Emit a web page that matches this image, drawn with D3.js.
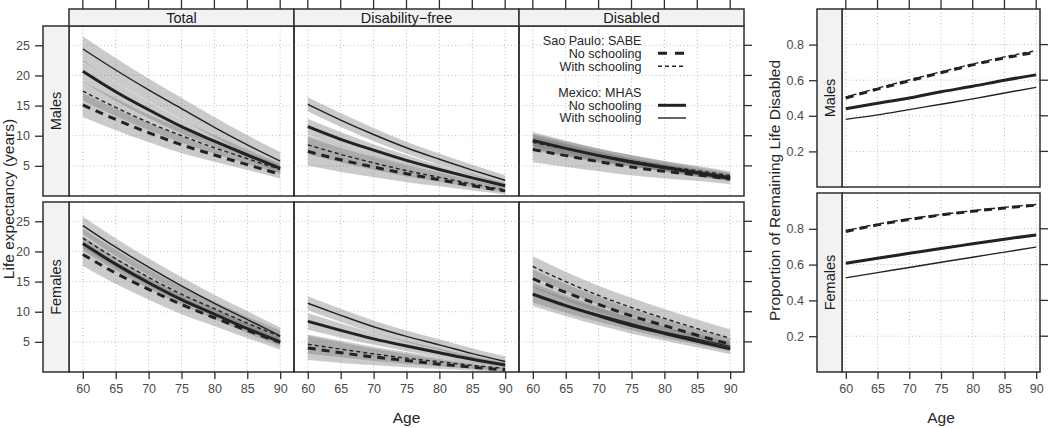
<!DOCTYPE html>
<html><head><meta charset="utf-8">
<script src="https://cdn.jsdelivr.net/npm/d3@7/dist/d3.min.js"></script>
<style>
html,body{margin:0;padding:0;background:#fff;}
svg{display:block;font-family:"Liberation Sans",Arial,Helvetica,sans-serif;}
</style></head>
<body><svg id="c" width="1050" height="428"></svg>
<script>
// ---------------- DATA ----------------
const ages = [60, 65, 70, 75, 80, 85, 90];
const xTicks = [60, 65, 70, 75, 80, 85, 90];
const leYTicks = [5, 10, 15, 20, 25];
const propYTicks = [0.2, 0.4, 0.6, 0.8];
const columns = ["Total", "Disability\u2212free", "Disabled"];
const rows = ["Males", "Females"];
// series order: SABE no schooling, SABE with schooling, MHAS no schooling, MHAS with schooling
const seriesLabels = ["No schooling", "With schooling", "No schooling", "With schooling"];
const legendGroups = ["Sao Paulo: SABE", "Mexico: MHAS"];

// Males – Total
const mTotal = [
  [15.1, 12.7, 10.5, 8.5, 6.8, 5.2, 3.6],
  [17.4, 14.7, 12.2, 10.0, 8.0, 6.2, 4.4],
  [20.7, 17.3, 14.3, 11.5, 9.1, 6.8, 4.6],
  [24.4, 20.9, 17.6, 14.5, 11.4, 8.5, 5.8]
];
const mTotalHW = [
  [2.0, 1.8, 1.6, 1.4, 1.1, 0.9, 0.7],
  [1.6, 1.5, 1.3, 1.2, 1.0, 0.9, 0.8],
  [1.8, 1.6, 1.4, 1.2, 1.0, 0.9, 0.8],
  [2.1, 2.0, 1.9, 1.8, 1.7, 1.6, 1.5]
];
// Males – Disability-free
const mFree = [
  [7.4, 6.0, 4.8, 3.7, 2.7, 1.7, 0.85],
  [8.5, 6.9, 5.5, 4.2, 3.1, 2.0, 1.0],
  [11.5, 9.4, 7.6, 5.9, 4.4, 3.0, 1.7],
  [15.2, 12.6, 10.2, 8.0, 6.1, 4.3, 2.6]
];
const mFreeHW = [
  [2.4, 2.0, 1.7, 1.4, 1.1, 0.8, 0.6],
  [1.6, 1.4, 1.2, 1.0, 0.8, 0.6, 0.5],
  [1.3, 1.2, 1.0, 0.9, 0.7, 0.6, 0.5],
  [1.2, 1.15, 1.1, 1.0, 0.95, 0.9, 0.85]
];
// Males – Disabled
const mDis = [
  [7.7, 6.7, 5.7, 4.8, 4.1, 3.5, 2.8],
  [8.9, 7.8, 6.7, 5.8, 4.9, 4.2, 3.4],
  [9.2, 7.9, 6.7, 5.6, 4.7, 3.8, 2.9],
  [9.2, 7.9, 6.8, 5.8, 4.9, 4.0, 3.2]
];
const mDisHW = [
  [2.1, 1.9, 1.6, 1.4, 1.2, 1.0, 0.85],
  [1.4, 1.3, 1.2, 1.0, 0.9, 0.8, 0.7],
  [1.0, 0.9, 0.8, 0.7, 0.65, 0.6, 0.55],
  [1.4, 1.3, 1.1, 1.0, 0.9, 0.8, 0.7]
];
// Females – Total
const fTotal = [
  [19.5, 16.4, 13.7, 11.2, 9.0, 6.9, 4.9],
  [22.2, 18.8, 15.7, 12.9, 10.5, 8.1, 5.9],
  [21.3, 17.9, 14.8, 12.0, 9.6, 7.2, 5.0],
  [24.3, 20.7, 17.4, 14.3, 11.4, 8.7, 6.0]
];
const fTotalHW = [
  [1.9, 1.8, 1.7, 1.6, 1.4, 1.3, 1.2],
  [1.6, 1.5, 1.4, 1.3, 1.2, 1.1, 1.0],
  [1.2, 1.1, 1.0, 0.9, 0.85, 0.8, 0.75],
  [1.5, 1.5, 1.45, 1.45, 1.4, 1.4, 1.4]
];
// Females – Disability-free
const fFree = [
  [4.0, 3.2, 2.5, 1.9, 1.3, 0.8, 0.3],
  [4.6, 3.8, 3.0, 2.3, 1.7, 1.1, 0.6],
  [8.4, 6.9, 5.5, 4.3, 3.2, 2.1, 1.15],
  [11.4, 9.4, 7.5, 5.9, 4.5, 3.05, 1.75]
];
const fFreeHW = [
  [2.0, 1.7, 1.4, 1.1, 0.8, 0.55, 0.35],
  [1.6, 1.4, 1.2, 1.0, 0.8, 0.6, 0.45],
  [1.4, 1.2, 1.0, 0.85, 0.7, 0.55, 0.45],
  [1.15, 1.1, 1.05, 1.0, 0.95, 0.9, 0.85]
];
// Females – Disabled
const fDis = [
  [15.5, 13.2, 11.2, 9.3, 7.7, 6.1, 4.6],
  [17.5, 15.0, 12.7, 10.7, 8.9, 7.2, 5.6],
  [12.9, 11.0, 9.3, 7.7, 6.4, 5.1, 3.85],
  [12.9, 11.1, 9.5, 8.0, 6.6, 5.45, 4.25]
];
const fDisHW = [
  [1.5, 1.4, 1.3, 1.2, 1.1, 1.0, 0.9],
  [1.7, 1.65, 1.6, 1.6, 1.55, 1.5, 1.5],
  [1.95, 1.75, 1.55, 1.35, 1.2, 1.05, 0.9],
  [1.4, 1.3, 1.2, 1.1, 1.0, 0.95, 0.9]
];
// Proportion of remaining life disabled
const mProp = [
  [0.50, 0.55, 0.597, 0.642, 0.686, 0.725, 0.757],
  [0.505, 0.555, 0.602, 0.647, 0.691, 0.731, 0.766],
  [0.44, 0.47, 0.50, 0.535, 0.566, 0.60, 0.63],
  [0.38, 0.405, 0.435, 0.465, 0.495, 0.528, 0.56]
];
const fProp = [
  [0.785, 0.822, 0.852, 0.877, 0.898, 0.916, 0.932],
  [0.79, 0.826, 0.856, 0.88, 0.901, 0.92, 0.936],
  [0.608, 0.636, 0.663, 0.69, 0.716, 0.742, 0.766],
  [0.526, 0.555, 0.584, 0.613, 0.641, 0.67, 0.698]
];

const leData = [[mTotal, mFree, mDis], [fTotal, fFree, fDis]];
const leHW = [[mTotalHW, mFreeHW, mDisHW], [fTotalHW, fFreeHW, fDisHW]];
const propData = [mProp, fProp];

// ---------------- STYLE ----------------
const ink = "#222";
const frame = "#2e2e2e";
const styles = [
  {w: 3.0, dash: "8,6"},
  {w: 1.4, dash: "4,3"},
  {w: 3.0, dash: null},
  {w: 1.4, dash: null}
];

const svg = d3.select("#c");

// ---------------- LEFT CHART ----------------
const colX = [69, 294, 519];
const colW = 225;
const rowY = [[26, 196], [202, 372]];
const stripTop = 9;
const rowStripX = [43, 69];

const xDom = [57.9, 92.1];
const yDom = [0, 28.2];

function drawPanelBase(g, x0, x1, y0, y1, xs, ys, yt) {
  g.selectAll(null).data(xTicks).join("line")
    .attr("x1", d => xs(d)).attr("x2", d => xs(d)).attr("y1", y0).attr("y2", y1)
    .attr("stroke", "#bdbdbd").attr("stroke-width", 1).attr("stroke-dasharray", "1,2.5");
  g.selectAll(null).data(yt).join("line")
    .attr("y1", d => ys(d)).attr("y2", d => ys(d)).attr("x1", x0).attr("x2", x1)
    .attr("stroke", "#bdbdbd").attr("stroke-width", 1).attr("stroke-dasharray", "1,2.5");
}

const lineGen = (xs, ys) => d3.line().x((d, i) => xs(ages[i])).y(d => ys(d)).curve(d3.curveMonotoneX);

columns.forEach((col, c) => {
  const xs = d3.scaleLinear().domain(xDom).range([colX[c], colX[c] + colW]);
  rows.forEach((row, r) => {
    const [y0, y1] = rowY[r];
    const ys = d3.scaleLinear().domain(yDom).range([y1, y0]);
    const g = svg.append("g");
    const clipId = `clip-${c}-${r}`;
    svg.append("clipPath").attr("id", clipId).append("rect")
      .attr("x", colX[c]).attr("y", y0).attr("width", colW).attr("height", y1 - y0);
    drawPanelBase(g, colX[c], colX[c] + colW, y0, y1, xs, ys, leYTicks);
    const pg = g.append("g").attr("clip-path", `url(#${clipId})`);
    const data = leData[r][c];
    const hw = leHW[r][c];
    data.forEach((s, k) => {
      const area = d3.area()
        .x((d, i) => xs(ages[i]))
        .y0((d, i) => ys(d - hw[k][i]))
        .y1((d, i) => ys(d + hw[k][i]))
        .curve(d3.curveMonotoneX);
      pg.append("path").datum(s).attr("d", area)
        .attr("fill", "#7a7a7a").attr("fill-opacity", 0.4)
        .attr("stroke", "#ffffff").attr("stroke-opacity", 0.18).attr("stroke-width", 0.8);
    });
    data.forEach((s, k) => {
      pg.append("path").datum(s).attr("d", lineGen(xs, ys))
        .attr("fill", "none").attr("stroke", ink)
        .attr("stroke-width", styles[k].w)
        .attr("stroke-dasharray", styles[k].dash);
    });
    g.append("rect").attr("x", colX[c]).attr("y", y0).attr("width", colW).attr("height", y1 - y0)
      .attr("fill", "none").attr("stroke", frame).attr("stroke-width", 1.5);
  });
  svg.append("rect").attr("x", colX[c]).attr("y", stripTop).attr("width", colW).attr("height", rowY[0][0] - stripTop)
    .attr("fill", "#f2f2f2").attr("stroke", frame).attr("stroke-width", 1.5);
  svg.append("text").attr("x", colX[c] + colW / 2).attr("y", (stripTop + rowY[0][0]) / 2 + 5)
    .attr("text-anchor", "middle").attr("font-size", 14.5).attr("fill", "#1a1a1a").text(col);
  svg.append("g").selectAll("line").data(xTicks).join("line")
    .attr("x1", d => xs(d)).attr("x2", d => xs(d)).attr("y1", stripTop).attr("y2", stripTop - 9)
    .attr("stroke", frame).attr("stroke-width", 1.3);
  const axB = d3.axisBottom(xs).tickValues(xTicks).tickSize(7).tickPadding(5);
  const ga = svg.append("g").attr("transform", `translate(0,${rowY[1][1]})`).call(axB);
  ga.select(".domain").remove();
  ga.selectAll("line").attr("stroke", frame).attr("stroke-width", 1.3);
  ga.selectAll("text").attr("font-size", 12.5).attr("fill", "#4a4a4a").attr("font-family", "Liberation Sans, Arial, sans-serif");
});

rows.forEach((row, r) => {
  const [y0, y1] = rowY[r];
  const ys = d3.scaleLinear().domain(yDom).range([y1, y0]);
  svg.append("rect").attr("x", rowStripX[0]).attr("y", y0).attr("width", rowStripX[1] - rowStripX[0]).attr("height", y1 - y0)
    .attr("fill", "#f2f2f2").attr("stroke", frame).attr("stroke-width", 1.5);
  svg.append("text").attr("transform", `translate(${(rowStripX[0] + rowStripX[1]) / 2 + 5},${(y0 + y1) / 2}) rotate(-90)`)
    .attr("text-anchor", "middle").attr("font-size", 14.5).attr("fill", "#1a1a1a").text(row);
  const axL = d3.axisLeft(ys).tickValues(leYTicks).tickSize(8).tickPadding(5);
  const ga = svg.append("g").attr("transform", `translate(${rowStripX[0]},0)`).call(axL);
  ga.select(".domain").remove();
  ga.selectAll("line").attr("stroke", frame).attr("stroke-width", 1.3);
  ga.selectAll("text").attr("font-size", 12.5).attr("fill", "#4a4a4a").attr("font-family", "Liberation Sans, Arial, sans-serif");
  svg.append("g").selectAll("line").data(leYTicks).join("line")
    .attr("x1", colX[2] + colW).attr("x2", colX[2] + colW + 8).attr("y1", d => ys(d)).attr("y2", d => ys(d))
    .attr("stroke", frame).attr("stroke-width", 1.3);
});

svg.append("text").attr("transform", `translate(14,${(rowY[0][0] + rowY[1][1]) / 2}) rotate(-90)`)
  .attr("text-anchor", "middle").attr("font-size", 15.5).attr("fill", "#262626").text("Life expectancy (years)");
svg.append("text").attr("x", (colX[0] + colX[2] + colW) / 2).attr("y", 423)
  .attr("text-anchor", "middle").attr("font-size", 15.5).attr("fill", "#262626").text("Age");

// legend (in Disabled / Males panel)
const legX = 641.5, legSX = [658, 686];
const legRows = [
  {y: 40.7, text: legendGroups[0], k: -1},
  {y: 53.3, text: seriesLabels[0], k: 0},
  {y: 66.3, text: seriesLabels[1], k: 1},
  {y: 92.3, text: legendGroups[1], k: -1},
  {y: 105.3, text: seriesLabels[2], k: 2},
  {y: 118.0, text: seriesLabels[3], k: 3}
];
legRows.forEach(lr => {
  svg.append("text").attr("x", legX).attr("y", lr.y + 4.4).attr("text-anchor", "end")
    .attr("font-size", 12.6).attr("fill", "#262626").text(lr.text);
  if (lr.k >= 0) {
    svg.append("line").attr("x1", legSX[0]).attr("x2", legSX[1]).attr("y1", lr.y).attr("y2", lr.y)
      .attr("stroke", ink).attr("stroke-width", styles[lr.k].w)
      .attr("stroke-dasharray", lr.k === 0 ? "9,8" : styles[lr.k].dash);
  }
});

// ---------------- RIGHT CHART ----------------
const rX = [842, 1040];
const rRows = [[9, 187], [193, 372]];
const rStripX = [817, 842];
const rxs = d3.scaleLinear().domain([59.4, 90.6]).range(rX);
rows.forEach((row, r) => {
  const [y0, y1] = rRows[r];
  const ys = d3.scaleLinear().domain([0, 1]).range([y1, y0]);
  const g = svg.append("g");
  drawPanelBase(g, rX[0], rX[1], y0, y1, rxs, ys, propYTicks);
  propData[r].forEach((s, k) => {
    g.append("path").datum(s).attr("d", lineGen(rxs, ys))
      .attr("fill", "none").attr("stroke", ink)
      .attr("stroke-width", styles[k].w)
      .attr("stroke-dasharray", styles[k].dash);
  });
  g.append("rect").attr("x", rX[0]).attr("y", y0).attr("width", rX[1] - rX[0]).attr("height", y1 - y0)
    .attr("fill", "none").attr("stroke", frame).attr("stroke-width", 1.5);
  svg.append("rect").attr("x", rStripX[0]).attr("y", y0).attr("width", rStripX[1] - rStripX[0]).attr("height", y1 - y0)
    .attr("fill", "#f2f2f2").attr("stroke", frame).attr("stroke-width", 1.5);
  svg.append("text").attr("transform", `translate(${(rStripX[0] + rStripX[1]) / 2 + 5},${(y0 + y1) / 2}) rotate(-90)`)
    .attr("text-anchor", "middle").attr("font-size", 14.5).attr("fill", "#1a1a1a").text(row);
  const axL = d3.axisLeft(ys).tickValues(propYTicks).tickSize(8).tickPadding(5).tickFormat(d3.format(".1f"));
  const ga = svg.append("g").attr("transform", `translate(${rStripX[0]},0)`).call(axL);
  ga.select(".domain").remove();
  ga.selectAll("line").attr("stroke", frame).attr("stroke-width", 1.3);
  ga.selectAll("text").attr("font-size", 12.5).attr("fill", "#4a4a4a").attr("font-family", "Liberation Sans, Arial, sans-serif");
  svg.append("g").selectAll("line").data(propYTicks).join("line")
    .attr("x1", rX[1]).attr("x2", rX[1] + 8).attr("y1", d => ys(d)).attr("y2", d => ys(d))
    .attr("stroke", frame).attr("stroke-width", 1.3);
});
svg.append("g").selectAll("line").data(xTicks).join("line")
  .attr("x1", d => rxs(d)).attr("x2", d => rxs(d)).attr("y1", rRows[0][0]).attr("y2", rRows[0][0] - 9)
  .attr("stroke", frame).attr("stroke-width", 1.3);
{
  const axB = d3.axisBottom(rxs).tickValues(xTicks).tickSize(7).tickPadding(5);
  const ga = svg.append("g").attr("transform", `translate(0,${rRows[1][1]})`).call(axB);
  ga.select(".domain").remove();
  ga.selectAll("line").attr("stroke", frame).attr("stroke-width", 1.3);
  ga.selectAll("text").attr("font-size", 12.5).attr("fill", "#4a4a4a").attr("font-family", "Liberation Sans, Arial, sans-serif");
}
svg.append("text").attr("transform", `translate(780,${(rRows[0][0] + rRows[1][1]) / 2}) rotate(-90)`)
  .attr("text-anchor", "middle").attr("font-size", 15.5).attr("fill", "#262626").text("Proportion of Remaining Life Disabled");
svg.append("text").attr("x", (rX[0] + rX[1]) / 2).attr("y", 423)
  .attr("text-anchor", "middle").attr("font-size", 15.5).attr("fill", "#262626").text("Age");
</script>
</body></html>
